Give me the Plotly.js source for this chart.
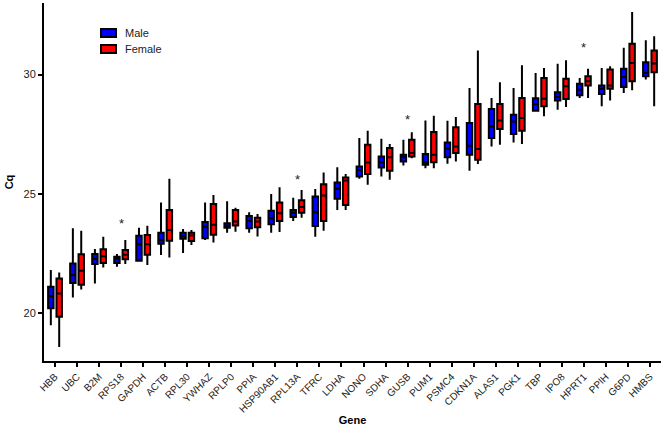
<!DOCTYPE html>
<html>
<head>
<meta charset="utf-8">
<script src="https://cdn.plot.ly/plotly-3.0.1.min.js"></script>
<style>html,body{margin:0;padding:0;background:#fff;}#chart{width:666px;height:426px;}</style>
</head>
<body>
<div id="chart"></div>
<script>
const genes = ["HBB","UBC","B2M","RPS18","GAPDH","ACTB","RPL30","YWHAZ","RPLP0","PPIA","HSP90AB1","RPL13A","TFRC","LDHA","NONO","SDHA","GUSB","PUM1","PSMC4","CDKN1A","ALAS1","PGK1","TBP","IPO8","HPRT1","PPIH","G6PD","HMBS"];

// Male
const maleMin = [19.50,20.66,21.25,21.95,22.16,22.44,22.53,23.07,23.37,23.37,23.37,23.87,23.21,24.33,25.64,25.73,26.19,26.08,26.26,25.97,26.99,27.16,28.46,28.53,29.02,28.67,29.23,29.79];
const maleQ1  = [20.21,21.27,22.06,22.11,22.20,22.91,23.12,23.14,23.58,23.56,23.73,24.03,23.66,24.80,25.73,26.11,26.36,26.22,26.54,26.64,27.34,27.51,28.49,28.92,29.13,29.19,29.48,29.93];
const maleMed = [20.71,21.60,22.28,22.28,22.89,23.07,23.24,23.63,23.67,23.88,23.98,24.21,24.23,25.22,26.00,26.33,26.54,26.33,26.89,27.02,27.83,28.04,28.77,29.06,29.37,29.41,29.90,30.07];
const maleQ3  = [21.11,22.09,22.48,22.37,23.25,23.37,23.37,23.82,23.77,24.08,24.30,24.33,24.89,25.48,26.15,26.57,26.64,26.67,27.16,27.97,28.56,28.32,29.01,29.26,29.62,29.54,30.24,30.52];
const maleMax = [21.81,23.56,22.69,22.48,23.58,24.64,23.53,24.64,24.69,24.23,25.00,24.84,25.21,26.12,27.34,27.31,27.27,28.08,28.07,29.44,29.02,29.44,30.07,30.45,29.86,30.28,31.12,31.44];

// Female
const femMin = [18.59,21.00,21.92,22.06,22.02,22.34,22.86,22.97,23.42,23.22,23.40,24.00,23.46,24.33,25.38,25.59,26.50,26.08,26.36,26.25,27.06,27.09,28.25,28.64,29.02,28.91,29.34,28.67];
const femQ1  = [19.85,21.20,22.11,22.26,22.45,23.04,23.03,23.29,23.68,23.60,23.87,24.21,23.87,24.54,25.83,25.97,26.57,26.33,26.71,26.43,27.72,27.65,28.67,28.98,29.54,29.41,29.72,30.10];
const femMed = [20.83,21.78,22.39,22.45,22.89,23.49,23.26,23.71,23.84,23.84,24.19,24.45,24.93,25.56,26.32,26.54,26.71,26.64,26.99,26.88,28.08,28.18,28.99,29.51,29.72,29.54,30.49,30.46];
const femQ3  = [21.46,22.47,22.68,22.65,23.28,24.33,23.37,24.58,24.33,24.00,24.64,24.74,25.41,25.69,27.06,26.92,27.27,27.59,27.79,28.77,28.77,29.02,29.86,29.83,29.93,30.21,31.29,31.01];
const femMax = [21.71,23.46,23.21,23.07,23.67,25.64,23.49,24.96,24.42,24.16,25.28,25.16,25.90,25.84,27.65,27.09,27.58,28.28,28.22,31.01,29.68,30.39,30.28,30.60,30.24,30.35,32.62,31.61];

// Significance markers
const sigGenes = ["RPS18","RPL13A","GUSB","HPRT1"];
const sigLevel = [23.77,25.62,28.11,31.12];

// Legend
const seriesNames = ["Male","Female"];
const seriesColors = ["#0000ff","#ff0000"];

const font = "Liberation Sans, Arial, Helvetica, sans-serif";
const W = 666, H = 426, M = {l: 44, r: 5, t: 3, b: 65};
const pw = W - M.l - M.r, ph = H - M.t - M.b;
const px = x => (x - M.l) / pw;
const py = y => 1 - (y - M.t) / ph;

function boxTrace(name, color, lo, q1, med, q3, hi) {
  return {
    type: "box", name: name, x: genes,
    lowerfence: lo, q1: q1, median: med, q3: q3, upperfence: hi,
    boxpoints: false, whiskerwidth: 0,
    fillcolor: color,
    line: {color: "#000000", width: 2},
    hoverinfo: "skip", showlegend: false
  };
}

const data = [
  boxTrace(seriesNames[0], seriesColors[0], maleMin, maleQ1, maleMed, maleQ3, maleMax),
  boxTrace(seriesNames[1], seriesColors[1], femMin, femQ1, femMed, femQ3, femMax)
];

const annotations = sigGenes.map((g, i) => ({
  x: g, y: sigLevel[i], xref: "x", yref: "y",
  text: "*", showarrow: false, yanchor: "middle",
  font: {family: font, size: 13, color: "#222"}
}));

const shapes = [];
seriesNames.forEach((n, i) => {
  const cy = 33 + i * 16;
  shapes.push({type: "rect", xref: "paper", yref: "paper",
    x0: px(101), x1: px(116), y0: py(cy - 4), y1: py(cy + 4),
    fillcolor: seriesColors[i], line: {color: "#000", width: 2}});
  annotations.push({xref: "paper", yref: "paper", x: px(123), y: py(cy),
    xanchor: "left", yanchor: "middle", text: n, showarrow: false,
    font: {family: font, size: 11, color: "#222"}});
});

const layout = {
  width: W, height: H,
  margin: M,
  paper_bgcolor: "#ffffff", plot_bgcolor: "#ffffff",
  boxmode: "group", boxgap: 0.24, boxgroupgap: 0.35,
  showlegend: false,
  xaxis: {
    type: "category", categoryorder: "array", categoryarray: genes,
    range: [-0.5, 27.5],
    showline: true, linecolor: "#000", linewidth: 2,
    ticks: "outside", ticklen: 4, tickwidth: 2, tickcolor: "#000",
    tickangle: -45, tickfont: {family: font, size: 10, color: "#222"},
    showgrid: false, zeroline: false,
    title: {text: "<b>Gene</b>", font: {family: font, size: 11, color: "#000"}, standoff: 6}
  },
  yaxis: {
    range: [18, 33], dtick: 5, tick0: 0,
    showline: true, linecolor: "#000", linewidth: 2,
    ticks: "outside", ticklen: 4, tickwidth: 2, tickcolor: "#000",
    tickfont: {family: font, size: 11, color: "#222"},
    showgrid: false, zeroline: false,
    title: {text: "<b>Cq</b>", font: {family: font, size: 11, color: "#000"}, standoff: 8}
  },
  shapes: shapes,
  annotations: annotations
};

Plotly.newPlot("chart", data, layout, {displayModeBar: false, staticPlot: true});
</script>
</body>
</html>
